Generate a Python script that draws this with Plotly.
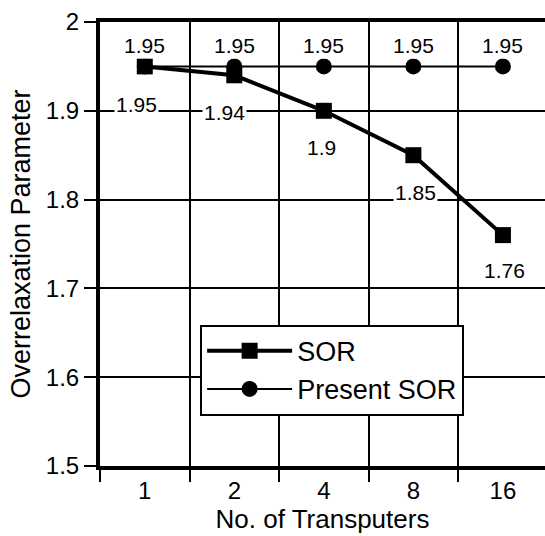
import plotly.graph_objects as go

transputers = ["1", "2", "4", "8", "16"]
sor = [1.95, 1.94, 1.9, 1.85, 1.76]
present_sor = [1.95, 1.95, 1.95, 1.95, 1.95]
sor_text = ["1.95", "1.94", "1.9", "1.85", "1.76"]
present_text = ["1.95", "1.95", "1.95", "1.95", "1.95"]

font = "Liberation Sans, Arial, sans-serif"

fig = go.Figure()
fig.add_trace(go.Scatter(
    x=transputers, y=present_sor, name="Present SOR", mode="lines+markers",
    legendrank=2,
    line=dict(color="black", width=2),
    marker=dict(symbol="circle", size=16, color="black"),
))
fig.add_trace(go.Scatter(
    x=transputers, y=sor, name="SOR", mode="lines+markers",
    legendrank=1,
    line=dict(color="black", width=4),
    marker=dict(symbol="square", size=16, color="black"),
))

# value labels (x as category index)
sor_xshift = [-8, -10, -2, 2, 2]
sor_yshift = [-38, -37, -37, -37, -35]
for i, (y, t, dx, dy) in enumerate(zip(sor, sor_text, sor_xshift, sor_yshift)):
    fig.add_annotation(x=i, y=y, text=t, showarrow=False, yshift=dy, xshift=dx,
                       bgcolor="white", borderpad=1, font=dict(size=21, color="black", family=font))
for i, (y, t) in enumerate(zip(present_sor, present_text)):
    fig.add_annotation(x=i, y=y, text=t, showarrow=False, yshift=21,
                       bgcolor="white", borderpad=1, font=dict(size=21, color="black", family=font))

fig.update_layout(
    width=545, height=536,
    margin=dict(l=100, r=0, t=22, b=70),
    paper_bgcolor="white", plot_bgcolor="white",
    font=dict(family=font, color="black", size=24),
    showlegend=True,
    legend=dict(
        x=0.225, y=0.318, xanchor="left", yanchor="top",
        bgcolor="white", bordercolor="black", borderwidth=2,
        traceorder="normal", font=dict(size=27), itemwidth=85,
    ),
)
fig.update_xaxes(
    type="category", range=[-0.5, 4.47], tickson="boundaries", automargin=False,
    showgrid=True, gridcolor="black", gridwidth=2,
    showline=True, linecolor="black", linewidth=4, mirror=True,
    ticks="outside", ticklen=12, tickwidth=2, tickcolor="black",
    tickfont=dict(size=24),
    title=dict(text="No. of Transputers", font=dict(size=26), standoff=2),
)
fig.update_yaxes(
    range=[1.5, 2.0], dtick=0.1, tickformat="~g", automargin=False,
    showgrid=True, gridcolor="black", gridwidth=2,
    showline=True, linecolor="black", linewidth=4, zeroline=False,
    ticks="outside", ticklen=12, tickwidth=2, tickcolor="black",
    tickfont=dict(size=24),
    title=dict(text="Overrelaxation Parameter", font=dict(size=27), standoff=8),
)

# drop the page's default body margin so the figure sits at the window's corner
fig.write_html("out.html", config={"displayModeBar": False},
               post_script="document.body.style.margin='0';")
